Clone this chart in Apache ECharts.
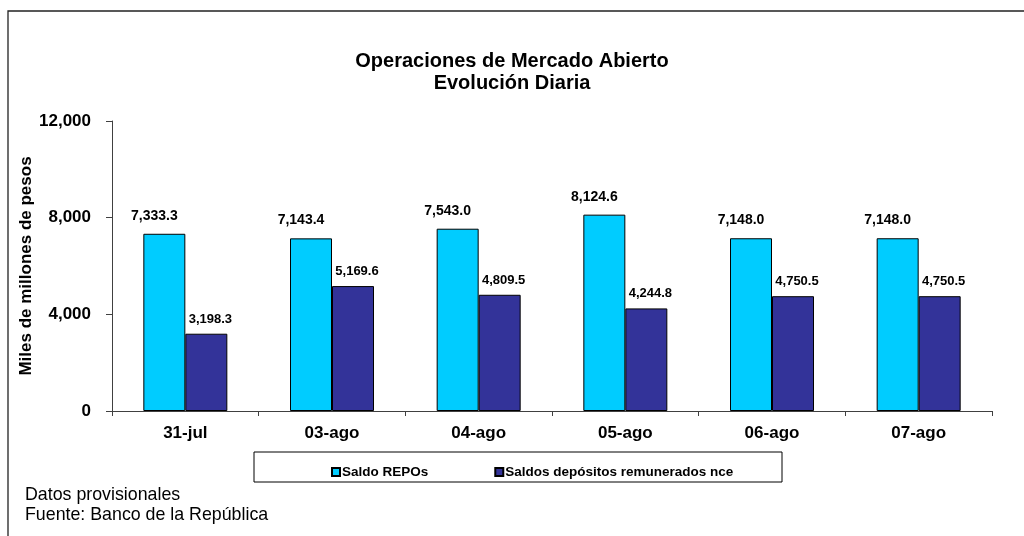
<!DOCTYPE html>
<html>
<head>
<meta charset="utf-8">
<script src="https://cdn.jsdelivr.net/npm/echarts@6/dist/echarts.min.js"></script>
<style>
html,body{margin:0;padding:0;background:#fff;}
#chart{width:1024px;height:536px;}
</style>
</head>
<body>
<div id="chart"></div>
<script>
const categories = ['31-jul', '03-ago', '04-ago', '05-ago', '06-ago', '07-ago'];
const saldoRepos = [7333.3, 7143.4, 7543.0, 8124.6, 7148.0, 7148.0];
const saldosDepositos = [3198.3, 5169.6, 4809.5, 4244.8, 4750.5, 4750.5];
const seriesNames = ['Saldo REPOs', 'Saldos depósitos remunerados nce'];
const titleLines = ['Operaciones de Mercado Abierto', 'Evolución Diaria'];
const yAxisName = 'Miles de millones de pesos';
const footnotes = ['Datos provisionales', 'Fuente: Banco de la República'];
const yMin = 0, yMax = 12000, yInterval = 4000;

const FONT = '"Liberation Sans", Arial, sans-serif';
function fmt(v, d) {
  const s = v.toFixed(d);
  const parts = s.split('.');
  parts[0] = parts[0].replace(/\B(?=(\d{3})+(?!\d))/g, ',');
  return parts.join('.');
}

const chart = echarts.init(document.getElementById('chart'));
chart.setOption({
  animation: false,
  backgroundColor: '#ffffff',
  textStyle: { fontFamily: FONT },
  title: {
    text: titleLines.join('\n'),
    left: 'center',
    top: 45,
    textStyle: { fontFamily: FONT, fontSize: 20, fontWeight: 'bold', color: '#000', lineHeight: 22 }
  },
  grid: { left: 112, right: 32, top: 121, bottom: 125, containLabel: false },
  legend: {
    left: 326,
    top: 460,
    itemWidth: 8,
    itemHeight: 8,
    itemGap: 66,
    icon: 'rect',
    textStyle: { fontFamily: FONT, fontSize: 13.5, fontWeight: 'bold', color: '#000', padding: [0, 0, 0, -3] },
    data: seriesNames
  },
  xAxis: {
    type: 'category',
    data: categories,
    axisLine: { lineStyle: { color: '#404040', width: 1 } },
    axisTick: { show: true, length: 5, lineStyle: { color: '#404040' } },
    axisLabel: { margin: 14, fontFamily: FONT, fontSize: 17, fontWeight: 'bold', color: '#000' }
  },
  yAxis: {
    type: 'value',
    min: yMin, max: yMax, interval: yInterval,
    name: yAxisName,
    nameLocation: 'middle',
    nameGap: 77,
    nameMoveOverlap: false,
    nameTextStyle: { fontFamily: FONT, fontSize: 17, fontWeight: 'bold', color: '#000' },
    axisLine: { show: true, lineStyle: { color: '#404040', width: 1 } },
    axisTick: { show: true, inside: false, length: 6, lineStyle: { color: '#404040' } },
    splitLine: { show: false },
    axisLabel: { margin: 21, fontFamily: FONT, fontSize: 17, fontWeight: 'bold', color: '#000',
      formatter: v => fmt(v, 0) }
  },
  series: [
    {
      name: seriesNames[0],
      type: 'bar',
      data: saldoRepos,
      barWidth: 42,
      barGap: '0%',
      itemStyle: { color: '#00CCFF', borderColor: '#000', borderWidth: 1 },
      label: {
        show: true, position: 'top', distance: 11, offset: [-10, 0],
        fontFamily: FONT, fontSize: 14, fontWeight: 'bold', color: '#000',
        formatter: p => fmt(p.value, 1)
      }
    },
    {
      name: seriesNames[1],
      type: 'bar',
      data: saldosDepositos,
      barWidth: 42,
      itemStyle: { color: '#333399', borderColor: '#000', borderWidth: 1 },
      label: {
        show: true, position: 'top', distance: 8, offset: [4, 0],
        fontFamily: FONT, fontSize: 13, fontWeight: 'bold', color: '#000',
        formatter: p => fmt(p.value, 1)
      }
    }
  ],
  graphic: [
    { type: 'rect', shape: { x: 8, y: 11, width: 1100, height: 600 },
      style: { fill: 'none', stroke: '#222', lineWidth: 1.3 }, silent: true, z: -1 },
    { type: 'rect', shape: { x: 254, y: 452, width: 528, height: 30 },
      style: { fill: '#fff', stroke: '#000', lineWidth: 1 }, silent: true, z: -1 },
    { type: 'text', left: 25, top: 485,
      style: { text: footnotes.join('\n'), font: '17.8px ' + FONT, fill: '#000', lineHeight: 20 } }
  ]
});
</script>
</body>
</html>
